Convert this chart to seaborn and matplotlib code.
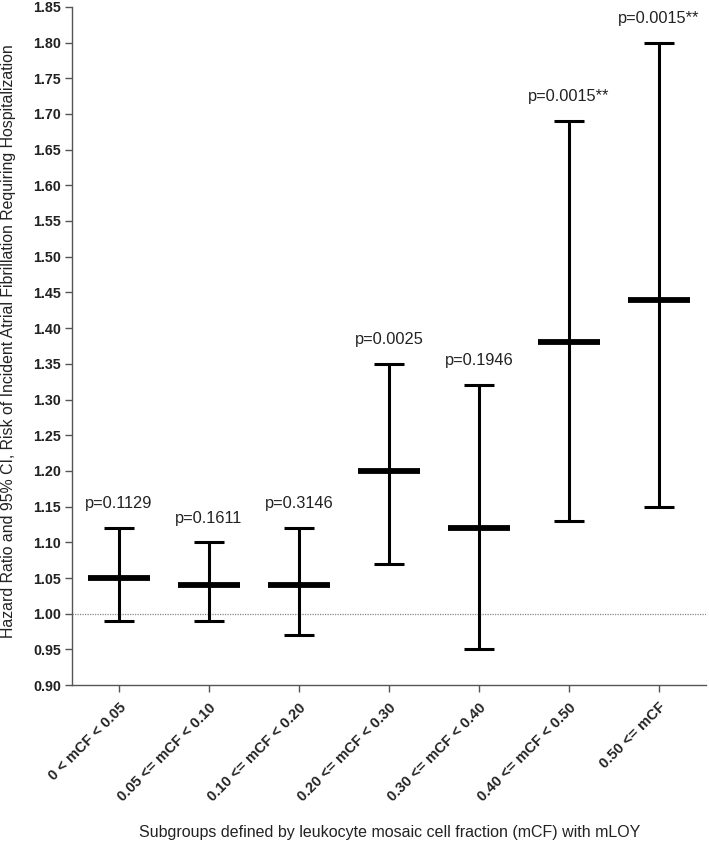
import matplotlib
matplotlib.use("Agg")
import matplotlib.pyplot as plt
import seaborn as sns
import pandas as pd
import numpy as np

categories = ["0 < mCF < 0.05", "0.05 <= mCF < 0.10", "0.10 <= mCF < 0.20",
              "0.20 <= mCF < 0.30", "0.30 <= mCF < 0.40", "0.40 <= mCF < 0.50",
              "0.50 <= mCF"]
hr = [1.05, 1.04, 1.04, 1.20, 1.12, 1.38, 1.44]
ci_low = [0.99, 0.99, 0.97, 1.07, 0.95, 1.13, 1.15]
ci_high = [1.12, 1.10, 1.12, 1.35, 1.32, 1.69, 1.80]
p_labels = ["p=0.1129", "p=0.1611", "p=0.3146", "p=0.0025", "p=0.1946",
            "p=0.0015**", "p=0.0015**"]
yticks = np.round(np.arange(0.90, 1.851, 0.05), 2)

df = pd.DataFrame({"group": categories, "hr": hr, "lo": ci_low, "hi": ci_high, "p": p_labels})

sns.set_theme(style="ticks")
plt.rcParams["font.family"] = ["Liberation Sans", "DejaVu Sans"]

fig = plt.figure(figsize=(7.09, 8.5), dpi=100)
ax = fig.add_axes([0.1016, 0.194, 0.894, 0.798])

x = np.arange(len(df))
ax.errorbar(x, df["hr"], yerr=[df["hr"] - df["lo"], df["hi"] - df["hr"]],
            fmt="none", ecolor="black", elinewidth=2.2, capsize=11, capthick=2.2, zorder=3)
sns.scatterplot(x=x, y=df["hr"], marker="_", s=2000, linewidth=4.2, color="black",
                ax=ax, zorder=4, legend=False)
ax.axhline(1.0, color="#888888", linestyle=(0, (1, 1)), linewidth=0.9, zorder=1)

for xi, hi, lab in zip(x, df["hi"], df["p"]):
    ax.text(xi, hi + 0.034, lab, ha="center", va="center", fontsize=11.8, color="#222222")

ax.set_xlim(-0.52, len(df) - 0.48)
ax.set_ylim(0.90, 1.85)
ax.set_yticks(yticks)
ax.set_yticklabels([f"{v:.2f}" for v in yticks], fontsize=10.3, fontweight="bold", color="#222222")
ax.set_xticks(x)
ax.set_xticklabels(df["group"], rotation=45, ha="right", rotation_mode="anchor",
                   fontsize=10.5, fontweight="bold", color="#222222")
ax.tick_params(axis="both", length=5, width=1, color="#555555", pad=3)
ax.tick_params(axis="x", pad=6)
for s in ["left", "bottom"]:
    ax.spines[s].set_color("#555555")
    ax.spines[s].set_linewidth(1)
sns.despine(ax=ax)
ax.set_xlabel("")
ax.set_ylabel("")

fig.text(9 / 709, 1 - 341 / 850,
         "Hazard Ratio and 95% CI, Risk of Incident Atrial Fibrillation Requiring Hospitalization",
         rotation=90, ha="center", va="center", fontsize=11.4, color="#222222")
fig.text(390 / 709, 1 - 833 / 850,
         "Subgroups defined by leukocyte mosaic cell fraction (mCF) with mLOY",
         ha="center", va="center", fontsize=11.5, color="#222222")

fig.savefig("out.png", dpi=100)
